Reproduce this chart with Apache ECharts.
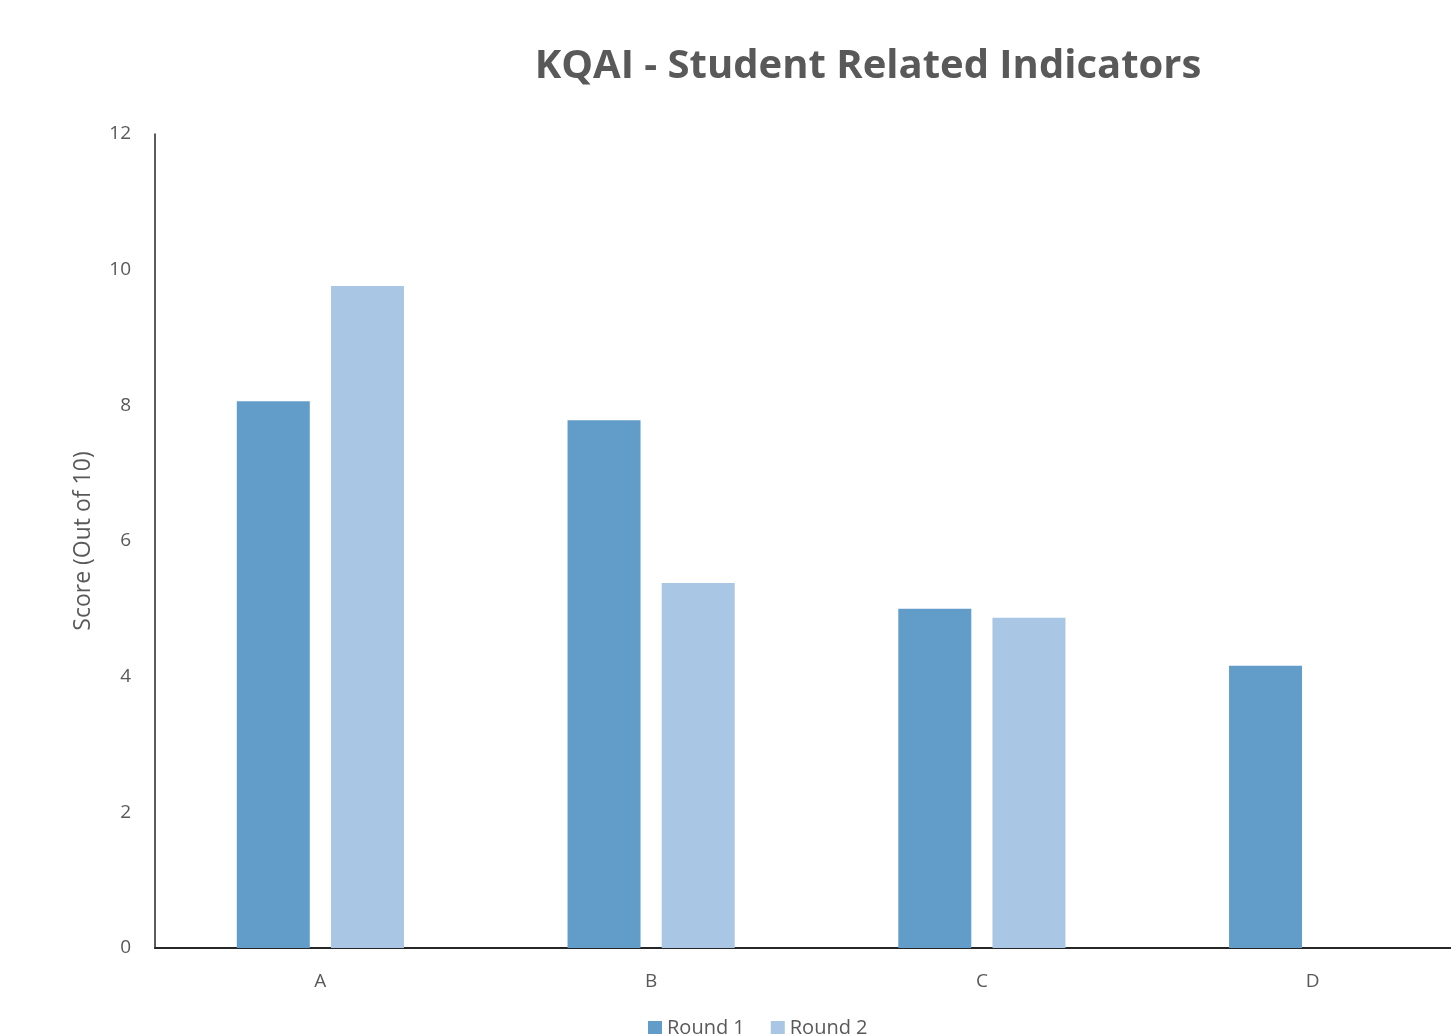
<!DOCTYPE html>
<html>
<head>
<meta charset="utf-8">
<script src="https://cdn.jsdelivr.net/npm/echarts@6/dist/echarts.min.js"></script>
<style>
  html, body { margin: 0; padding: 0; background: #fff; }
  #chart { width: 1451px; height: 1034px; }
</style>
</head>
<body>
<div id="chart"></div>
<script>
// Indicator categories and scores per round
const categories = ['A', 'B', 'C', 'D'];
const round1 = [8.06, 7.78, 5.0, 4.16];
const round2 = [9.76, 5.38, 4.87, null];
const yTicks = { min: 0, max: 12, interval: 2 };

const chart = echarts.init(document.getElementById('chart'));
const font = 'Open Sans, Noto Sans, sans-serif';

chart.setOption({
  animation: false,
  backgroundColor: '#ffffff',
  title: {
    text: 'KQAI - Student Related Indicators',
    left: 863,
    textAlign: 'center',
    top: 42,
    textStyle: { fontFamily: font, fontSize: 40, fontWeight: 'bold', color: '#595959' }
  },
  legend: {
    bottom: -9,
    left: 643,
    itemWidth: 14,
    itemHeight: 14,
    itemGap: 26,
    icon: 'rect',
    textStyle: { fontFamily: font, fontSize: 20, color: '#595959' },
    data: ['Round 1', 'Round 2']
  },
  grid: {
    left: 155, top: 134, width: 1323, height: 814,
    containLabel: false, outerBoundsMode: 'none'
  },
  xAxis: {
    type: 'category',
    data: categories,
    axisLine: { lineStyle: { color: '#262626', width: 2 } },
    axisTick: { show: false },
    axisLabel: { fontFamily: font, fontSize: 19, color: '#595959', margin: 24 }
  },
  yAxis: {
    type: 'value',
    min: yTicks.min,
    max: yTicks.max,
    interval: yTicks.interval,
    name: 'Score (Out of 10)',
    nameLocation: 'middle',
    nameGap: 60,
    nameTextStyle: { fontFamily: font, fontSize: 23, color: '#595959' },
    axisLine: { show: true, lineStyle: { color: '#262626', width: 1.5 } },
    axisTick: { show: false },
    splitLine: { show: false },
    axisLabel: { fontFamily: font, fontSize: 19, color: '#595959', margin: 24 }
  },
  series: [
    {
      name: 'Round 1',
      type: 'bar',
      data: round1,
      barWidth: 73,
      barGap: '29%',
      itemStyle: { color: '#629DC9' }
    },
    {
      name: 'Round 2',
      type: 'bar',
      data: round2,
      barWidth: 73,
      itemStyle: { color: '#A9C6E4' }
    }
  ]
});
</script>
</body>
</html>
